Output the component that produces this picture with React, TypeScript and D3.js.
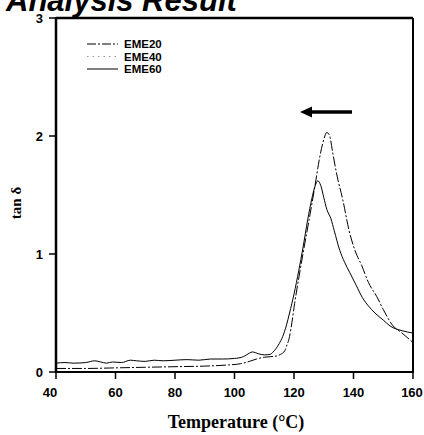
import React from "react";
import * as d3 from "d3";

const xTicks = [40, 60, 80, 100, 120, 140, 160];
const yTicks = [0, 1, 2, 3];
const seriesNames = ["EME20", "EME40", "EME60"];

// EME20 (higher peak, later)
const eme20T = [40, 50, 60, 70, 80, 90, 98, 102, 105, 107.4, 110, 112, 114, 115.5, 116.9, 117.5, 118.5, 119.3, 120.2, 121.5, 123, 125, 127, 128.5, 130, 131, 132, 133, 134.5, 136.4, 138.5, 140.5, 142.8, 145, 147.8, 150, 153, 156.3, 160];
const eme20V = [0.03, 0.03, 0.035, 0.04, 0.045, 0.05, 0.06, 0.07, 0.09, 0.11, 0.125, 0.13, 0.135, 0.15, 0.18, 0.22, 0.3, 0.42, 0.58, 0.78, 1.0, 1.28, 1.57, 1.8, 1.97, 2.03, 2.0, 1.86, 1.66, 1.46, 1.2, 1.03, 0.9, 0.76, 0.64, 0.53, 0.4, 0.33, 0.25];

// EME60 (lower peak, earlier)
const eme60T = [40, 43, 46, 50, 53, 55, 57, 59, 62, 65, 67, 70, 73, 76, 80, 84, 88, 92, 96, 100, 103, 105, 106, 108, 110, 112, 113, 114, 115, 116.2, 117.5, 118.5, 120, 121.6, 123, 124.6, 126, 127, 128, 129, 130, 131, 132.4, 133.5, 135.4, 137, 138.8, 141, 143, 145, 147.2, 150, 152.3, 156.3, 160];
const eme60V = [0.075, 0.08, 0.075, 0.08, 0.095, 0.085, 0.075, 0.085, 0.08, 0.1, 0.095, 0.09, 0.1, 0.095, 0.1, 0.105, 0.1, 0.11, 0.11, 0.115, 0.13, 0.16, 0.17, 0.155, 0.145, 0.15, 0.17, 0.2, 0.24, 0.3, 0.4, 0.5, 0.66, 0.86, 1.05, 1.29, 1.47, 1.57, 1.62, 1.58, 1.48, 1.38, 1.3, 1.2, 1.03, 0.93, 0.84, 0.73, 0.63, 0.56, 0.5, 0.44, 0.39, 0.35, 0.33];

const W = 424;
const H = 435;
const left = 56;
const right = 413;
const top = 18;
const bottom = 372;

export default function App() {
  const x = d3.scaleLinear().domain([40, 160]).range([left, right]);
  const y = d3.scaleLinear().domain([0, 3]).range([bottom, top]);
  const line = d3
    .line<[number, number]>()
    .x((d) => x(d[0]))
    .y((d) => y(d[1]))
    .curve(d3.curveMonotoneX);
  const d20 = line(eme20T.map((t, i) => [t, eme20V[i]] as [number, number])) || "";
  const d60 = line(eme60T.map((t, i) => [t, eme60V[i]] as [number, number])) || "";

  const legendDash = ["9,2,2,2", "1.5,4", null];
  const sans = "'Liberation Sans', Arial, sans-serif";
  const serif = "'Liberation Serif', 'Times New Roman', serif";

  return (
    <svg
      width={W}
      height={H}
      style={{ position: "absolute", left: 0, top: 0, background: "#fff" }}
    >
      <rect x={0} y={0} width={W} height={H} fill="#fff" />
      <text
        x={6}
        y={11}
        fontFamily={sans}
        fontWeight="bold"
        fontStyle="italic"
        fontSize={31}
        fill="#000"
      >
        Analysis Result
      </text>

      {/* curves */}
      <path d={d20} fill="none" stroke="#000" strokeWidth={1} strokeDasharray="10,2,2,2" />
      <path d={d60} fill="none" stroke="#000" strokeWidth={1} />

      {/* frame */}
      <line x1={left} x2={right} y1={top} y2={top} stroke="#000" strokeWidth={2.5} />
      <line x1={right} x2={right} y1={top} y2={bottom} stroke="#000" strokeWidth={2} />
      <line x1={left} x2={right + 1} y1={bottom} y2={bottom} stroke="#000" strokeWidth={2} />
      <line x1={left} x2={left} y1={top - 1} y2={bottom + 1} stroke="#000" strokeWidth={2.5} />

      {/* y ticks */}
      {yTicks.map((t) => (
        <g key={"y" + t}>
          <line x1={left - 7} x2={left} y1={y(t)} y2={y(t)} stroke="#000" strokeWidth={1.5} />
          <text
            x={left - 13}
            y={y(t)}
            dy="0.35em"
            textAnchor="end"
            fontFamily={sans}
            fontWeight="bold"
            fontSize={13}
            fill="#000"
          >
            {t}
          </text>
        </g>
      ))}

      {/* x ticks */}
      {xTicks.map((t) => (
        <g key={"x" + t}>
          <line x1={x(t)} x2={x(t)} y1={bottom} y2={bottom + 7} stroke="#000" strokeWidth={1.5} />
          <text
            x={t === 160 ? x(t) - 1 : t === 40 ? x(t) - 6 : x(t)}
            y={397}
            textAnchor="middle"
            fontFamily={sans}
            fontWeight="bold"
            fontSize={13}
            fill="#000"
          >
            {t}
          </text>
        </g>
      ))}

      {/* axis titles */}
      <text
        x={236}
        y={428}
        textAnchor="middle"
        fontFamily={serif}
        fontWeight="bold"
        fontSize={18}
        fill="#000"
      >
        Temperature (°C)
      </text>
      <text
        transform={`translate(21,${203}) rotate(-90)`}
        textAnchor="middle"
        fontFamily={serif}
        fontWeight="bold"
        fontSize={15}
        fill="#000"
      >
        tan δ
      </text>

      {/* legend */}
      {seriesNames.map((n, i) => {
        const ly = 44 + i * 12.5;
        const dash = legendDash[i];
        return (
          <g key={n}>
            <line
              x1={87}
              x2={118}
              y1={ly}
              y2={ly}
              stroke={i === 1 ? "#999" : "#000"}
              strokeWidth={1}
              strokeDasharray={dash || undefined}
            />
            <text
              x={124}
              y={ly}
              dy="0.35em"
              fontFamily={sans}
              fontWeight="bold"
              fontSize={11.5}
              fill="#000"
            >
              {n}
            </text>
          </g>
        );
      })}

      {/* arrow */}
      <line x1={309} x2={352} y1={112} y2={112} stroke="#000" strokeWidth={3.5} />
      <path d="M300,112 L312,106.5 L312,117.5 Z" fill="#000" />
    </svg>
  );
}
